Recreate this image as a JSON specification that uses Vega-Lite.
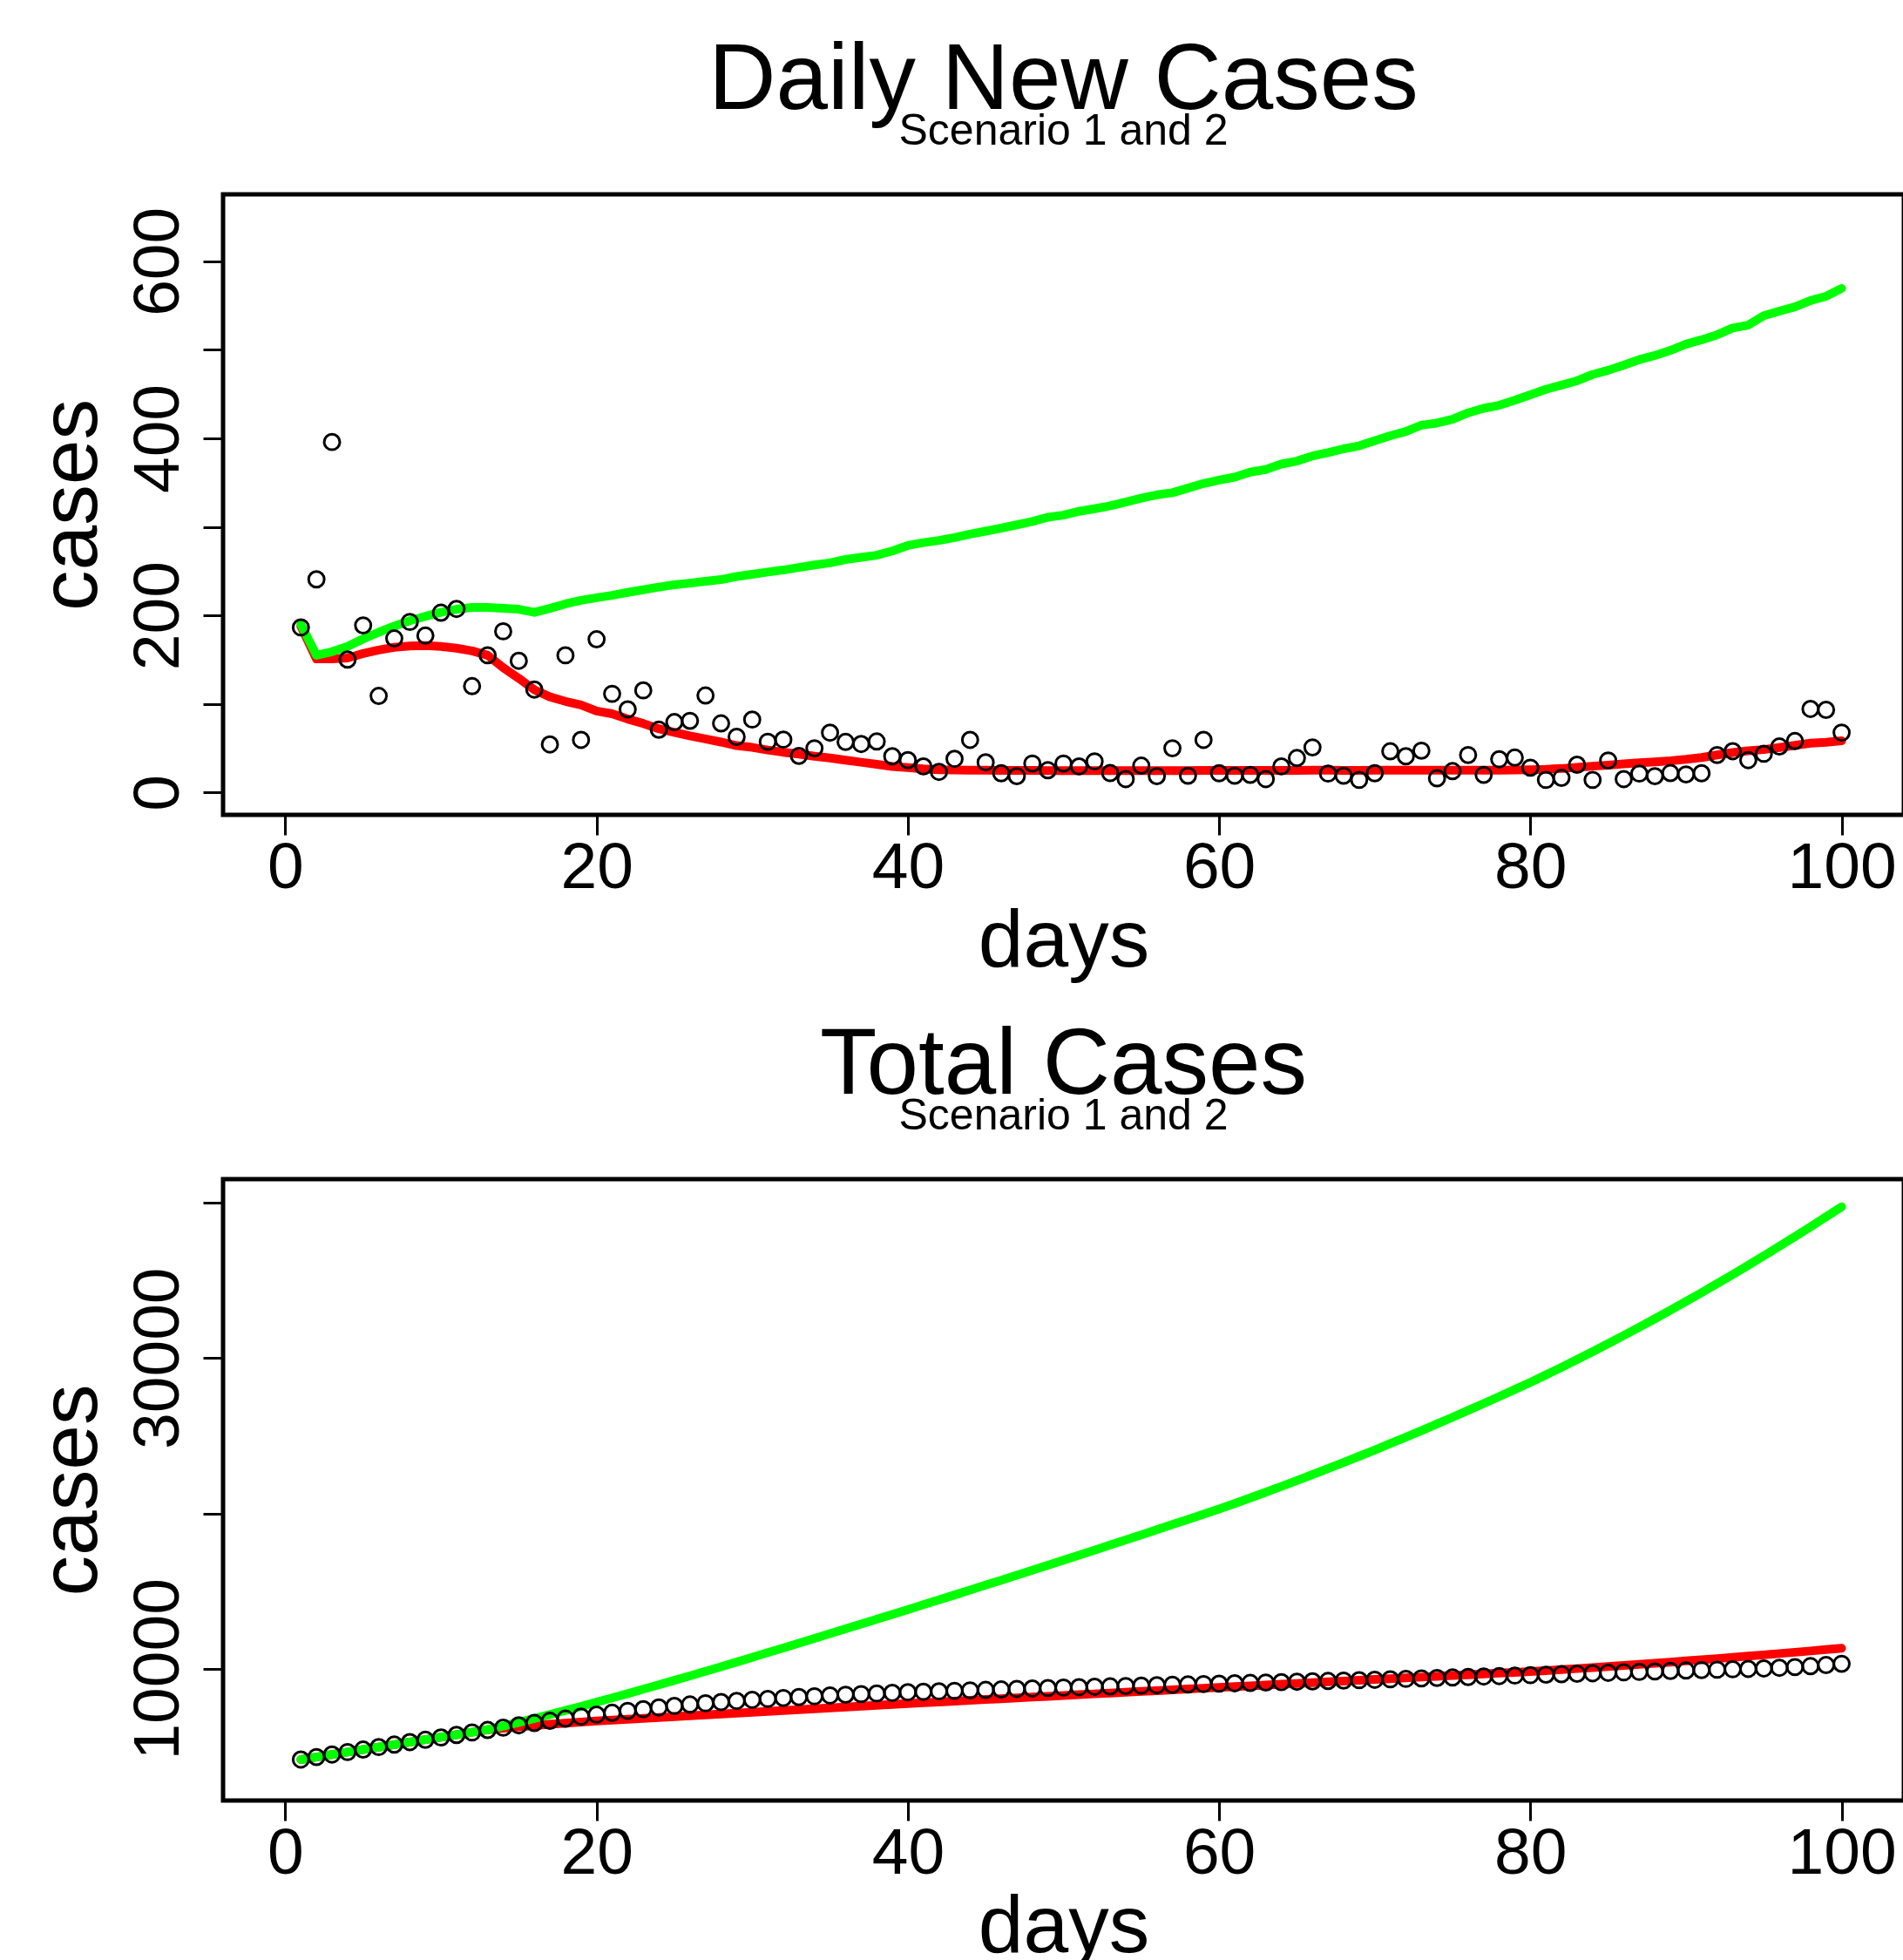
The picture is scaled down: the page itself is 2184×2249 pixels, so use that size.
{
"$schema": "https://vega.github.io/schema/vega-lite/v6.json",
"background": "white",
"padding": {"left": 33, "top": 36, "right": 0, "bottom": 0},
"autosize": {"type": "pad"},
"config": {
  "font": "Liberation Sans",
  "view": {"stroke": "black", "strokeWidth": 5},
  "axis": {"labelFont": "Liberation Sans", "labelFontSize": 75, "labelColor": "black", "labelLimit": 0, "titleFont": "Liberation Sans", "titleFontSize": 93, "titleFontWeight": "normal", "titleColor": "black", "titleLimit": 0, "tickColor": "black", "tickWidth": 3, "tickSize": 23, "domain": false, "grid": false, "labelOverlap": false, "labelFlush": false, "labelBound": false},
  "axisX": {"labelAngle": 0, "labelAlign": "center", "labelBaseline": "alphabetic", "labelPadding": 60, "titleBaseline": "alphabetic", "titleAlign": "center", "titleX": 964.5, "titleY": 173},
  "axisY": {"labelAngle": 270, "labelAlign": "center", "labelBaseline": "alphabetic", "labelPadding": 29, "titleAngle": 270, "titleAlign": "center", "titleBaseline": "alphabetic", "titleX": -146},
  "title": {"font": "Liberation Sans", "fontSize": 107, "fontWeight": "normal", "color": "black", "subtitleFont": "Liberation Sans", "subtitleFontSize": 50, "subtitleColor": "black", "subtitlePadding": -21, "anchor": "middle", "frame": "group", "offset": 46}
},
"data": {"values": [
{"d":1,"obs":186.5,"s1":188,"s2":190,"to":4158,"t1":4158,"t2":4158},
{"d":2,"obs":240.8,"s1":151,"s2":155,"to":4320,"t1":4318,"t2":4318},
{"d":3,"obs":395.9,"s1":151,"s2":159,"to":4480,"t1":4478,"t2":4478},
{"d":4,"obs":150.2,"s1":152,"s2":165,"to":4640,"t1":4638,"t2":4638},
{"d":5,"obs":188.8,"s1":157,"s2":173.5,"to":4800,"t1":4798,"t2":4798},
{"d":6,"obs":109.1,"s1":161,"s2":181,"to":4960,"t1":4958,"t2":4958},
{"d":7,"obs":174.1,"s1":164,"s2":188,"to":5120,"t1":5118,"t2":5118},
{"d":8,"obs":192.7,"s1":165.5,"s2":194,"to":5280,"t1":5278,"t2":5278},
{"d":9,"obs":177.3,"s1":166,"s2":199,"to":5430,"t1":5438,"t2":5438},
{"d":10,"obs":203.1,"s1":165,"s2":203.5,"to":5580,"t1":5598,"t2":5598},
{"d":11,"obs":207.4,"s1":163,"s2":207,"to":5740,"t1":5758,"t2":5758},
{"d":12,"obs":120.2,"s1":160,"s2":209,"to":5900,"t1":5918,"t2":5918},
{"d":13,"obs":155.0,"s1":155,"s2":209,"to":6060,"t1":6078,"t2":6078},
{"d":14,"obs":182.1,"s1":141,"s2":208,"to":6210,"t1":6170,"t2":6308},
{"d":15,"obs":148.8,"s1":129,"s2":207,"to":6360,"t1":6260,"t2":6548},
{"d":16,"obs":116.3,"s1":116,"s2":203.5,"to":6510,"t1":6345,"t2":6798},
{"d":17,"obs":54.3,"s1":108,"s2":208,"to":6650,"t1":6425,"t2":7053},
{"d":18,"obs":155.0,"s1":103,"s2":213,"to":6790,"t1":6500,"t2":7313},
{"d":19,"obs":59.5,"s1":99,"s2":217,"to":6920,"t1":6570,"t2":7578},
{"d":20,"obs":173.1,"s1":92,"s2":220,"to":7050,"t1":6640,"t2":7848},
{"d":21,"obs":111.5,"s1":89,"s2":222.7,"to":7170,"t1":6696,"t2":8123},
{"d":22,"obs":93.9,"s1":83,"s2":226,"to":7290,"t1":6752,"t2":8401},
{"d":23,"obs":115.4,"s1":78,"s2":229,"to":7400,"t1":6808,"t2":8682},
{"d":24,"obs":71.0,"s1":72,"s2":232,"to":7510,"t1":6864,"t2":8966},
{"d":25,"obs":79.6,"s1":68,"s2":234.6,"to":7610,"t1":6920,"t2":9253},
{"d":26,"obs":81.0,"s1":64,"s2":236.5,"to":7700,"t1":6976,"t2":9543},
{"d":27,"obs":109.6,"s1":60.5,"s2":238.5,"to":7780,"t1":7032,"t2":9836},
{"d":28,"obs":78.1,"s1":57,"s2":240.5,"to":7860,"t1":7088,"t2":10132},
{"d":29,"obs":62.9,"s1":53,"s2":244,"to":7930,"t1":7144,"t2":10431},
{"d":30,"obs":82.4,"s1":51,"s2":246.5,"to":8000,"t1":7200,"t2":10733},
{"d":31,"obs":57.4,"s1":48,"s2":249,"to":8060,"t1":7256,"t2":11036},
{"d":32,"obs":59.8,"s1":45.5,"s2":251.3,"to":8120,"t1":7312,"t2":11340},
{"d":33,"obs":41.4,"s1":43.5,"s2":254.2,"to":8180,"t1":7368,"t2":11645},
{"d":34,"obs":50.0,"s1":41,"s2":257,"to":8230,"t1":7424,"t2":11951},
{"d":35,"obs":67.6,"s1":39,"s2":259.4,"to":8280,"t1":7480,"t2":12258},
{"d":36,"obs":57.2,"s1":36.6,"s2":263.2,"to":8330,"t1":7536,"t2":12566},
{"d":37,"obs":54.8,"s1":34.2,"s2":265.6,"to":8370,"t1":7592,"t2":12875},
{"d":38,"obs":57.7,"s1":31.9,"s2":268,"to":8410,"t1":7648,"t2":13185},
{"d":39,"obs":41.0,"s1":29.5,"s2":272.8,"to":8450,"t1":7704,"t2":13496},
{"d":40,"obs":36.6,"s1":28.1,"s2":279,"to":8490,"t1":7760,"t2":13808},
{"d":41,"obs":29.5,"s1":26.7,"s2":282.3,"to":8520,"t1":7812,"t2":14121},
{"d":42,"obs":23.3,"s1":25.7,"s2":284.7,"to":8550,"t1":7864,"t2":14435},
{"d":43,"obs":38.1,"s1":25.5,"s2":288,"to":8580,"t1":7916,"t2":14750},
{"d":44,"obs":59.5,"s1":25.3,"s2":291.9,"to":8610,"t1":7968,"t2":15066},
{"d":45,"obs":34.2,"s1":25.2,"s2":295.2,"to":8640,"t1":8020,"t2":15383},
{"d":46,"obs":21.8,"s1":25,"s2":298.6,"to":8670,"t1":8072,"t2":15701},
{"d":47,"obs":18.5,"s1":25,"s2":302.3,"to":8700,"t1":8124,"t2":16020},
{"d":48,"obs":32.8,"s1":25,"s2":306.1,"to":8730,"t1":8176,"t2":16340},
{"d":49,"obs":25.2,"s1":24.8,"s2":310.9,"to":8760,"t1":8228,"t2":16662},
{"d":50,"obs":32.8,"s1":24.8,"s2":313.3,"to":8790,"t1":8280,"t2":16985},
{"d":51,"obs":29.5,"s1":24.8,"s2":317.6,"to":8815,"t1":8332,"t2":17309},
{"d":52,"obs":35.2,"s1":24.8,"s2":320.5,"to":8840,"t1":8384,"t2":17634},
{"d":53,"obs":22.0,"s1":24.7,"s2":323.8,"to":8865,"t1":8436,"t2":17961},
{"d":54,"obs":15.2,"s1":24.7,"s2":328.1,"to":8890,"t1":8488,"t2":18289},
{"d":55,"obs":30.4,"s1":24.7,"s2":332.4,"to":8915,"t1":8540,"t2":18618},
{"d":56,"obs":18.5,"s1":24.7,"s2":336.2,"to":8940,"t1":8592,"t2":18948},
{"d":57,"obs":50.0,"s1":24.7,"s2":338.6,"to":8965,"t1":8644,"t2":19279},
{"d":58,"obs":19.0,"s1":24.7,"s2":343.8,"to":8990,"t1":8696,"t2":19611},
{"d":59,"obs":59.5,"s1":24.9,"s2":349,"to":9015,"t1":8748,"t2":19945},
{"d":60,"obs":21.8,"s1":25,"s2":352.9,"to":9040,"t1":8800,"t2":20280},
{"d":61,"obs":19.0,"s1":25,"s2":356.2,"to":9065,"t1":8851,"t2":20635},
{"d":62,"obs":20.0,"s1":25,"s2":361.9,"to":9090,"t1":8902,"t2":20996},
{"d":63,"obs":15.2,"s1":25,"s2":364.8,"to":9115,"t1":8953,"t2":21362},
{"d":64,"obs":29.5,"s1":25,"s2":371,"to":9140,"t1":9004,"t2":21734},
{"d":65,"obs":39.0,"s1":25,"s2":374.3,"to":9165,"t1":9055,"t2":22111},
{"d":66,"obs":51.0,"s1":25.2,"s2":380.1,"to":9190,"t1":9106,"t2":22494},
{"d":67,"obs":21.4,"s1":25.2,"s2":383.9,"to":9215,"t1":9157,"t2":22882},
{"d":68,"obs":19.0,"s1":25,"s2":388.2,"to":9240,"t1":9208,"t2":23276},
{"d":69,"obs":14.3,"s1":25,"s2":391.6,"to":9265,"t1":9259,"t2":23675},
{"d":70,"obs":21.8,"s1":25.2,"s2":397.3,"to":9290,"t1":9310,"t2":24080},
{"d":71,"obs":46.6,"s1":25.2,"s2":403,"to":9320,"t1":9361,"t2":24490},
{"d":72,"obs":41.0,"s1":25.2,"s2":407.8,"to":9350,"t1":9412,"t2":24906},
{"d":73,"obs":47.3,"s1":25.3,"s2":414.9,"to":9380,"t1":9463,"t2":25327},
{"d":74,"obs":16.1,"s1":25.3,"s2":417.3,"to":9410,"t1":9514,"t2":25754},
{"d":75,"obs":24.2,"s1":25.3,"s2":421.6,"to":9440,"t1":9565,"t2":26186},
{"d":76,"obs":42.4,"s1":25.3,"s2":428.8,"to":9470,"t1":9616,"t2":26624},
{"d":77,"obs":20.0,"s1":25.3,"s2":434,"to":9500,"t1":9667,"t2":27067},
{"d":78,"obs":37.6,"s1":25.3,"s2":437.3,"to":9530,"t1":9718,"t2":27516},
{"d":79,"obs":39.5,"s1":25.5,"s2":443,"to":9560,"t1":9769,"t2":27971},
{"d":80,"obs":28.1,"s1":25.7,"s2":449.2,"to":9590,"t1":9820,"t2":28431},
{"d":81,"obs":14.3,"s1":26.2,"s2":455.4,"to":9620,"t1":9882,"t2":28911},
{"d":82,"obs":16.6,"s1":27.1,"s2":460.2,"to":9650,"t1":9945,"t2":29400},
{"d":83,"obs":31.4,"s1":28.5,"s2":465,"to":9680,"t1":10010,"t2":29898},
{"d":84,"obs":14.3,"s1":29.8,"s2":472.1,"to":9710,"t1":10076,"t2":30405},
{"d":85,"obs":36.2,"s1":31,"s2":476.9,"to":9740,"t1":10144,"t2":30921},
{"d":86,"obs":15.2,"s1":32.3,"s2":482.7,"to":9770,"t1":10213,"t2":31446},
{"d":87,"obs":21.4,"s1":33.5,"s2":488.9,"to":9800,"t1":10283,"t2":31980},
{"d":88,"obs":18.5,"s1":34.7,"s2":493.6,"to":9830,"t1":10355,"t2":32523},
{"d":89,"obs":22.0,"s1":35.9,"s2":499.3,"to":9860,"t1":10428,"t2":33075},
{"d":90,"obs":20.5,"s1":37.5,"s2":506.5,"to":9890,"t1":10502,"t2":33636},
{"d":91,"obs":21.8,"s1":39.5,"s2":511.3,"to":9915,"t1":10578,"t2":34206},
{"d":92,"obs":42.4,"s1":42.5,"s2":517,"to":9940,"t1":10655,"t2":34784},
{"d":93,"obs":46.7,"s1":45.2,"s2":524.6,"to":9965,"t1":10733,"t2":35371},
{"d":94,"obs":36.6,"s1":47.2,"s2":527.9,"to":9990,"t1":10813,"t2":35967},
{"d":95,"obs":43.8,"s1":48.5,"s2":538.5,"to":10020,"t1":10894,"t2":36572},
{"d":96,"obs":52.0,"s1":50.9,"s2":543.7,"to":10060,"t1":10977,"t2":37186},
{"d":97,"obs":58.2,"s1":53.3,"s2":548.5,"to":10110,"t1":11061,"t2":37809},
{"d":98,"obs":94.4,"s1":55.7,"s2":555.6,"to":10170,"t1":11146,"t2":38441},
{"d":99,"obs":93.4,"s1":56.8,"s2":560.4,"to":10240,"t1":11233,"t2":39082},
{"d":100,"obs":67.7,"s1":58.5,"s2":569.4,"to":10320,"t1":11321,"t2":39732}
]},
"bounds": "flush",
"spacing": 418,
"vconcat": [
 {
  "width": 1929, "height": 712,
  "title": {"text": "Daily New Cases", "subtitle": "Scenario 1 and 2"},
  "encoding": {
    "x": {"field": "d", "type": "quantitative", "title": "days", "scale": {"domain": [-4, 104], "nice": false, "zero": false}, "axis": {"values": [0, 20, 40, 60, 80, 100], "format": "d"}}
  },
  "layer": [
    {"mark": {"type": "line", "color": "#FF0000", "strokeWidth": 10, "strokeCap": "round", "strokeJoin": "round"},
     "encoding": {"y": {"field": "s1", "type": "quantitative", "title": "cases", "scale": {"domain": [-25.2, 675.6], "nice": false, "zero": false}, "axis": {"values": [0, 100, 200, 300, 400, 500, 600], "format": "d", "labelExpr": "datum.value % 200 === 0 ? datum.label : ''", "titleY": 356}}}},
    {"mark": {"type": "line", "color": "#00FF00", "strokeWidth": 10, "strokeCap": "round", "strokeJoin": "round"},
     "encoding": {"y": {"field": "s2", "type": "quantitative", "title": "cases"}}},
    {"mark": {"type": "point", "shape": "circle", "filled": false, "stroke": "black", "strokeWidth": 3, "size": 320, "opacity": 1},
     "encoding": {"y": {"field": "obs", "type": "quantitative", "title": "cases"}}}
  ]
 },
 {
  "width": 1929, "height": 713,
  "title": {"text": "Total Cases", "subtitle": "Scenario 1 and 2"},
  "encoding": {
    "x": {"field": "d", "type": "quantitative", "title": "days", "scale": {"domain": [-4, 104], "nice": false, "zero": false}, "axis": {"values": [0, 20, 40, 60, 80, 100], "format": "d"}}
  },
  "layer": [
    {"mark": {"type": "line", "color": "#FF0000", "strokeWidth": 10, "strokeCap": "round", "strokeJoin": "round"},
     "encoding": {"y": {"field": "t1", "type": "quantitative", "title": "cases", "scale": {"domain": [1520, 41510], "nice": false, "zero": false}, "axis": {"values": [10000, 20000, 30000, 40000], "format": "d", "labelExpr": "datum.value % 20000 === 10000 ? datum.label : ''", "titleY": 356.5}}}},
    {"mark": {"type": "line", "color": "#00FF00", "strokeWidth": 10, "strokeCap": "round", "strokeJoin": "round"},
     "encoding": {"y": {"field": "t2", "type": "quantitative", "title": "cases"}}},
    {"mark": {"type": "point", "shape": "circle", "filled": false, "stroke": "black", "strokeWidth": 3, "size": 320, "opacity": 1},
     "encoding": {"y": {"field": "to", "type": "quantitative", "title": "cases"}}}
  ]
 }
]
}
